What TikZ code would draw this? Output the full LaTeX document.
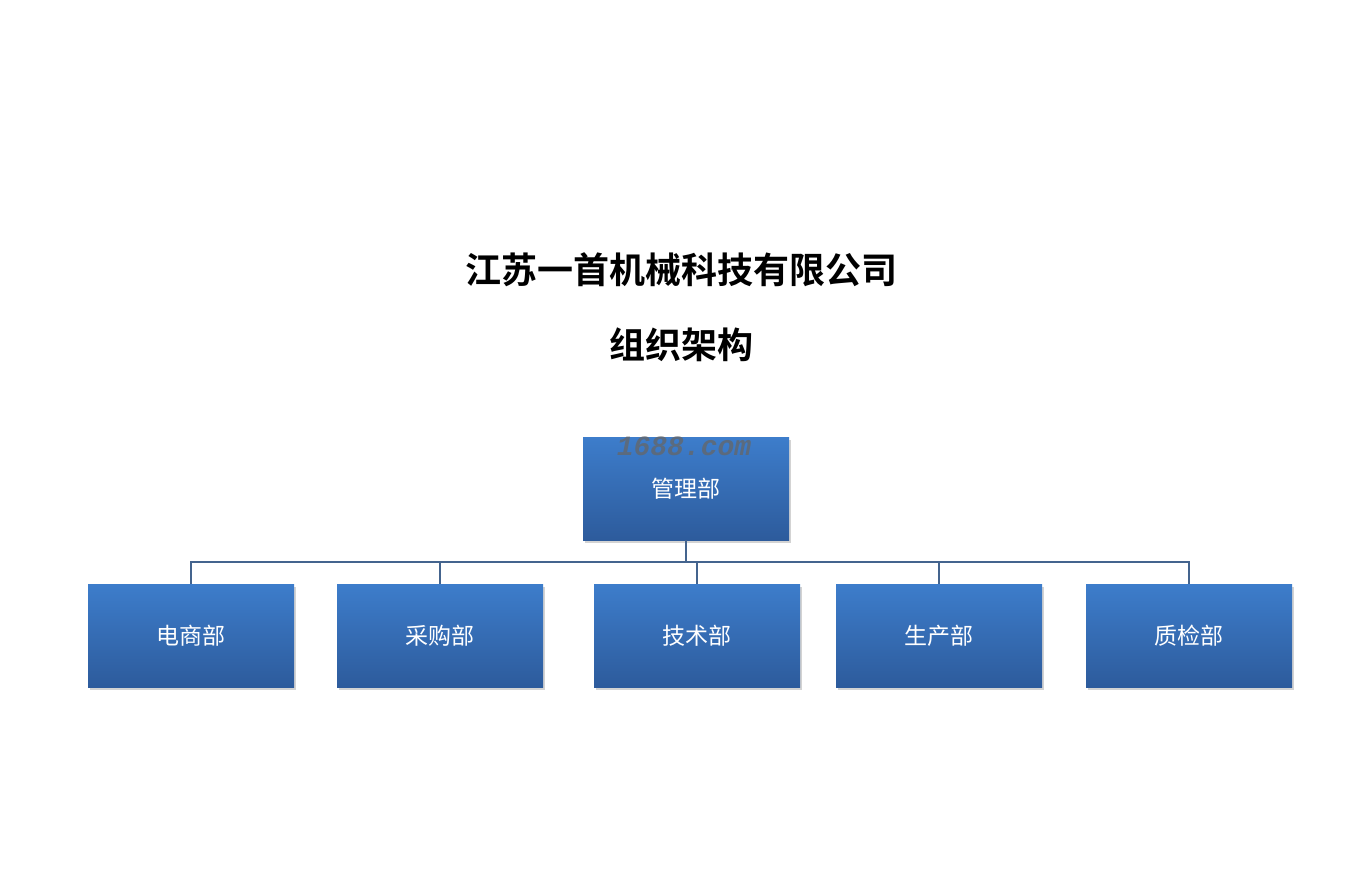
\documentclass[tikz,border=0pt]{standalone}
\usepackage{fontspec}
\newfontfamily\cjk{Noto Sans CJK SC}
\newfontfamily\cjkbold{Noto Sans CJK SC Bold}
\newfontfamily\wmfont{Liberation Mono}
\usetikzlibrary{shadows}
\definecolor{boxtop}{HTML}{3D7DCB}
\definecolor{boxbot}{HTML}{2D5B9C}
\definecolor{linkc}{HTML}{44648E}

\begin{document}
\begin{tikzpicture}[x=1pt, y=-1pt,
    dept/.style={rectangle, minimum width=206pt, minimum height=103pt,
        top color=boxtop, bottom color=boxbot, draw=none,
        drop shadow={shadow xshift=1.5pt, shadow yshift=-3pt, opacity=0.35},
        text=white, font=\cjk\fontsize{23}{26}\selectfont},
    link/.style={draw=linkc, line width=1.6pt}]
    \useasboundingbox (0,0) rectangle (1369,887);
    % Title
    \node[font=\cjkbold\fontsize{36}{40}\selectfont] (title) at (681,270) {江苏一首机械科技有限公司};
    \node[font=\cjkbold\fontsize{36}{40}\selectfont] (subtitle) at (681,345) {组织架构};
    % Boxes
    \node[dept] (mgmt) at (686,488.5) {管理部};
    \node[dept] (ds) at (191,635.5) {电商部};
    \node[dept] (cg) at (440,635.5) {采购部};
    \node[dept] (js) at (697,635.5) {技术部};
    \node[dept] (sc) at (939,635.5) {生产部};
    \node[dept] (zj) at (1189,635.5) {质检部};
    % Watermark
    \node[font=\wmfont\bfseries\itshape\fontsize{28}{30}\selectfont, text=black!60, opacity=0.75] (wm) at (684,446) {1688.com};
    % Connectors
    \coordinate (bus) at (686,562);
    \draw[link] (mgmt.south) -- (mgmt.south |- bus);
    \draw[link] (ds.north) |- (bus) -| (zj.north);
    \foreach \d in {cg, js, sc}
        \draw[link] (\d.north) -- (\d.north |- bus);
\end{tikzpicture}
\end{document}
